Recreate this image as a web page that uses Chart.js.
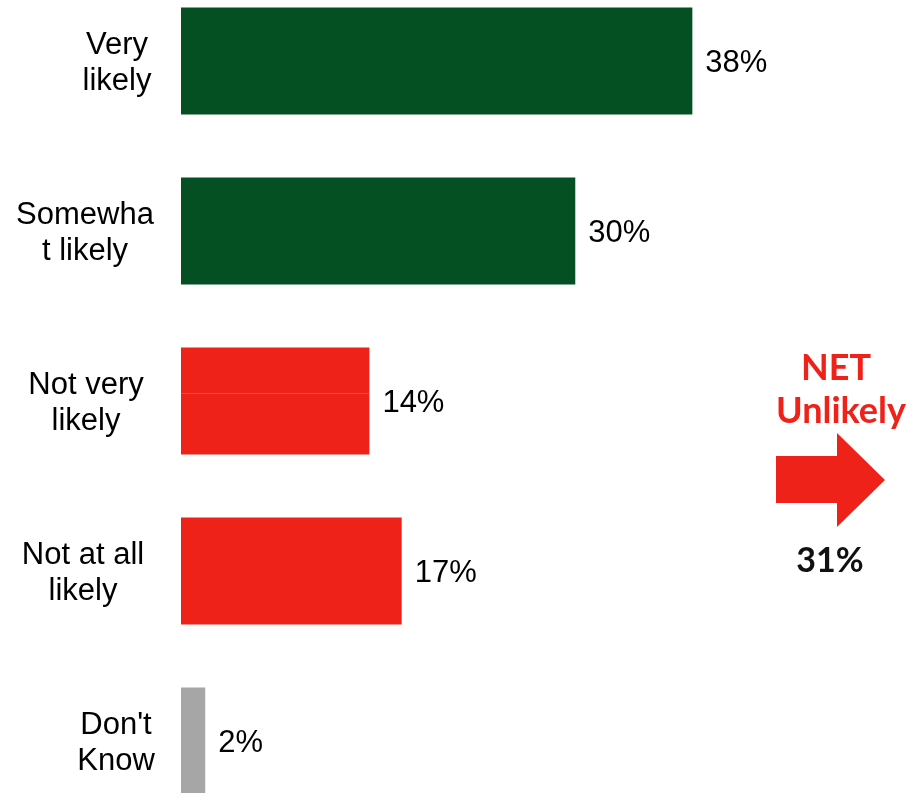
<!DOCTYPE html>
<html>
<head>
<meta charset="utf-8">
<script src="https://cdn.jsdelivr.net/npm/chart.js@4"></script>
<style>
  html, body { margin: 0; padding: 0; background: #fff; overflow: hidden; }
  #wrap { position: absolute; left: 0; top: -24px; width: 909px; height: 850px; }
</style>
</head>
<body>
<div id="wrap"><canvas id="chart"></canvas></div>
<script>
// 数据
const categories = [['Very', 'likely'], ['Somewha', 't likely'], ['Not very', 'likely'], ['Not at all', 'likely'], ["Don't", 'Know']];
const values = [38, 29.3, 14, 16.4, 1.8];
const valueLabels = ['38%', '30%', '14%', '17%', '2%'];
const barColors = ['#055022', '#055022', '#EE2219', '#EE2219', '#A6A6A6'];
const netLabel = ['NET', 'Unlikely'];
const netValue = '31%';

const labelCenters = [117, 85, 86, 83, 116];
const OFFSET = 24; // canvas y = page y + OFFSET

// 类别标签 (居中多行)
const categoryLabels = {
    id: 'categoryLabels',
    afterDraw(chart) {
        const { ctx, scales: { y } } = chart;
        ctx.save();
        ctx.font = '31px "Liberation Sans", Arial, sans-serif';
        ctx.fillStyle = '#000';
        ctx.textAlign = 'center';
        ctx.textBaseline = 'middle';
        categories.forEach((lines, i) => {
            const cy = y.getPixelForTick(i) + 2;
            lines.forEach((t, j) => {
                ctx.fillText(t, labelCenters[i], cy + (j - (lines.length - 1) / 2) * 36);
            });
        });
        ctx.restore();
    }
};

// 数值标签 + 第三根柱上的细线
const valueText = {
    id: 'valueText',
    afterDatasetsDraw(chart) {
        const { ctx } = chart;
        const meta = chart.getDatasetMeta(0);
        ctx.save();
        const b = meta.data[2];
        ctx.fillStyle = 'rgba(255, 255, 255, 0.18)';
        ctx.fillRect(b.base, b.y - 8, b.x - b.base, 1);

        ctx.font = '31px "Liberation Sans", Arial, sans-serif';
        ctx.fillStyle = '#000';
        ctx.textAlign = 'left';
        ctx.textBaseline = 'middle';
        meta.data.forEach((bar, i) => {
            ctx.fillText(valueLabels[i], bar.x + 13, bar.y + 2);
        });
        ctx.restore();
    }
};

// NET 箭头
const netArrow = {
    id: 'netArrow',
    afterDraw(chart) {
        const { ctx } = chart;
        const o = OFFSET;
        ctx.save();
        ctx.fillStyle = '#EE2219';
        ctx.beginPath();
        ctx.moveTo(776, 456 + o);
        ctx.lineTo(837, 456 + o);
        ctx.lineTo(837, 433 + o);
        ctx.lineTo(885, 480 + o);
        ctx.lineTo(837, 527 + o);
        ctx.lineTo(837, 503 + o);
        ctx.lineTo(776, 503 + o);
        ctx.closePath();
        ctx.fill();

        ctx.font = 'bold 36px Lato, "Open Sans", sans-serif';
        ctx.textAlign = 'center';
        ctx.textBaseline = 'alphabetic';
        ctx.fillText(netLabel[0], 836, 380 + o);
        ctx.fillText(netLabel[1], 841, 423 + o);
        ctx.font = 'bold 34px Lato, "Open Sans", sans-serif';
        ctx.fillStyle = '#111';
        ctx.fillText(netValue, 830, 572 + o);
        ctx.restore();
    }
};

new Chart(document.getElementById('chart').getContext('2d'), {
    type: 'bar',
    data: {
        labels: categories,
        datasets: [{
            data: values,
            backgroundColor: barColors,
            borderWidth: 0,
            barPercentage: 0.63,
            categoryPercentage: 1
        }]
    },
    options: {
        indexAxis: 'y',
        responsive: true,
        maintainAspectRatio: false,
        animation: false,
        layout: { padding: 0 },
        plugins: {
            legend: { display: false },
            tooltip: { enabled: false }
        },
        scales: {
            x: {
                display: false,
                min: 0,
                max: 54.1
            },
            y: {
                grid: { display: false, drawTicks: false },
                border: { display: false },
                ticks: { display: false },
                afterFit(scale) { scale.width = 181; }
            }
        }
    },
    plugins: [categoryLabels, valueText, netArrow]
});
</script>
</body>
</html>
